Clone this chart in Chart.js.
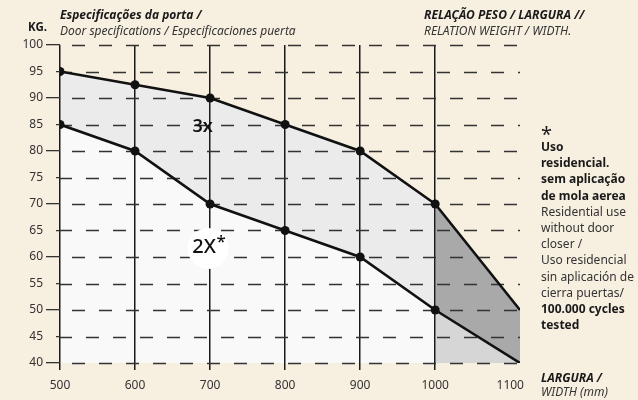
<!DOCTYPE html>
<html>
<head>
<meta charset="utf-8">
<script src="https://cdn.jsdelivr.net/npm/chart.js@4.4.1/dist/chart.umd.min.js"></script>
<style>
  html, body { margin: 0; padding: 0; background: #f7efe0; }
  #wrap { position: relative; width: 638px; height: 400px; overflow: hidden; font-family: "Noto Sans", sans-serif; color: #1a1a1a; }
  #chart { position: absolute; left: 0; top: 0; }
  .t { position: absolute; white-space: nowrap; font-size: 12px; line-height: 16px; }
  .b { font-weight: 700; }
  .i { font-style: italic; }
  .g { color: #333; }
</style>
</head>
<body>
<div id="wrap">
  <canvas id="chart" width="638" height="400"></canvas>
  <div class="t b" style="left:28px; top:19px; font-size:11.5px;">KG.</div>
  <div class="t" style="left:60px; top:7px;">
    <div class="b i">Especificações da porta /</div>
    <div class="i g">Door specifications / Especificaciones puerta</div>
  </div>
  <div class="t" style="left:424px; top:7px;">
    <div class="b i">RELAÇÃO PESO / LARGURA //</div>
    <div class="i g">RELATION WEIGHT / WIDTH.</div>
  </div>
  <div class="t" style="left:541px; top:124px; font-size:20px; line-height:20px;">*</div>
  <div class="t" style="left:541px; top:139px; line-height:16.2px;">
    <div class="b">Uso</div>
    <div class="b">residencial.</div>
    <div class="b">sem aplicação</div>
    <div class="b">de mola aerea</div>
    <div class="g">Residential use</div>
    <div class="g">without door</div>
    <div class="g">closer /</div>
    <div class="g">Uso residencial</div>
    <div class="g">sin aplicación de</div>
    <div class="g">cierra puertas/</div>
    <div class="b">100.000 cycles</div>
    <div class="b">tested</div>
  </div>
  <div class="t" style="left:541px; top:371px; line-height:14px;">
    <div class="b i">LARGURA /</div>
    <div class="i g">WIDTH (mm)</div>
  </div>
</div>
<script>
// ---- data ----
const widths = [500, 600, 700, 800, 900, 1000, 1113];
const upper3x = [95, 92.5, 90, 85, 80, 70, 50];
const lower2x = [85, 80, 70, 65, 60, 50, 40];
const xTicks = [500, 600, 700, 800, 900, 1000, 1100];
const yTicks = [40, 45, 50, 55, 60, 65, 70, 75, 80, 85, 90, 95, 100];
const regionLabels = [
  { text: '3x', x: 690, y: 84.5 },
  { text: '2X', x: 692, y: 61.8, star: true, halo: true }
];

const toPts = (ys) => widths.map((w, i) => ({ x: w, y: ys[i] }));
const lastIdx = widths.length - 1;
const isTen = c => c.tick && c.tick.value % 10 === 0;

// dashed horizontal grid, placed by the y scale
const dashedGrid = {
  id: 'dashedGrid',
  beforeDatasetsDraw(chart) {
    const { ctx, chartArea: a, scales: { y } } = chart;
    ctx.save();
    ctx.strokeStyle = '#333';
    ctx.lineWidth = 1.3;
    y.ticks.forEach(t => {
      const py = Math.round(y.getPixelForValue(t.value)) + 0.5;
      ctx.setLineDash([13, 14]);
      ctx.lineDashOffset = (t.value % 10 === 0) ? 15 : 1;
      ctx.beginPath();
      ctx.moveTo(a.left, py);
      ctx.lineTo(a.right, py);
      ctx.stroke();
    });
    ctx.restore();
  }
};

const labelPlugin = {
  id: 'regionLabels',
  afterDatasetsDraw(chart) {
    const { ctx, scales: { x, y } } = chart;
    ctx.save();
    regionLabels.forEach(l => {
      const px = x.getPixelForValue(l.x);
      const py = y.getPixelForValue(l.y);
      if (l.halo) {
        ctx.beginPath();
        ctx.fillStyle = '#ffffff';
        ctx.arc(px + 4, py + 1, 20.5, 0, Math.PI * 2);
        ctx.fill();
      }
      ctx.fillStyle = '#111';
      ctx.textAlign = 'center';
      ctx.textBaseline = 'middle';
      ctx.font = (l.star ? '500 20px' : '600 18px') + ' "Noto Sans", sans-serif';
      ctx.fillText(l.text, px, py);
      if (l.star) {
        const w = ctx.measureText(l.text).width;
        ctx.font = '500 17px "Noto Sans", sans-serif';
        ctx.textAlign = 'left';
        ctx.fillText('*', px + w / 2 + 0.5, py - 5);
      }
    });
    ctx.restore();
  }
};

new Chart(document.getElementById('chart'), {
  type: 'line',
  data: {
    datasets: [
      {
        data: toPts(upper3x),
        borderColor: '#111',
        borderWidth: 2.6,
        pointRadius: c => c.dataIndex === lastIdx ? 0 : 4.5,
        pointBackgroundColor: '#111',
        pointBorderWidth: 0,
        fill: '+1',
        backgroundColor: '#ebebeb',
        segment: { backgroundColor: c => c.p0DataIndex >= 5 ? '#a9a9a9' : '#ebebeb' },
        tension: 0
      },
      {
        data: toPts(lower2x),
        borderColor: '#111',
        borderWidth: 2.6,
        pointRadius: c => c.dataIndex === lastIdx ? 0 : 4.5,
        pointBackgroundColor: '#111',
        pointBorderWidth: 0,
        fill: 'start',
        backgroundColor: '#f9f9f9',
        segment: { backgroundColor: c => c.p0DataIndex >= 5 ? '#d6d6d6' : '#f9f9f9' },
        tension: 0
      }
    ]
  },
  options: {
    responsive: false,
    animation: false,
    events: [],
    layout: { padding: { left: 0, top: 45, right: 118, bottom: 0 } },
    plugins: {
      legend: { display: false },
      tooltip: { enabled: false },
      filler: { drawTime: 'beforeDraw' }
    },
    scales: {
      x: {
        type: 'linear',
        min: 500,
        max: 1113,
        afterFit: s => { s.height = 37; },
        afterBuildTicks: s => { s.ticks = xTicks.map(v => ({ value: v })); },
        ticks: { color: '#333', padding: 8, callback: v => String(v),
                 font: { family: '"Noto Sans", sans-serif', size: 12 } },
        border: { display: false },
        grid: {
          color: c => (c.tick && c.tick.value === 1100) ? 'rgba(0,0,0,0)' : '#1a1a1a',
          lineWidth: 1.5,
          tickLength: 7
        }
      },
      y: {
        min: 40,
        max: 100,
        afterFit: s => { s.width = 60; },
        afterBuildTicks: s => { s.ticks = yTicks.map(v => ({ value: v })); },
        ticks: { color: '#333', padding: 3, callback: v => String(v),
                 font: { family: '"Noto Sans", sans-serif', size: 12 } },
        border: { display: false },
        grid: {
          color: '#333',
          lineWidth: 1.3,
          drawOnChartArea: false,
          tickLength: 14,
          tickBorderDash: c => isTen(c) ? [] : [0, 10, 4, 100]
        }
      }
    }
  },
  plugins: [dashedGrid, labelPlugin]
});
</script>
</body>
</html>
